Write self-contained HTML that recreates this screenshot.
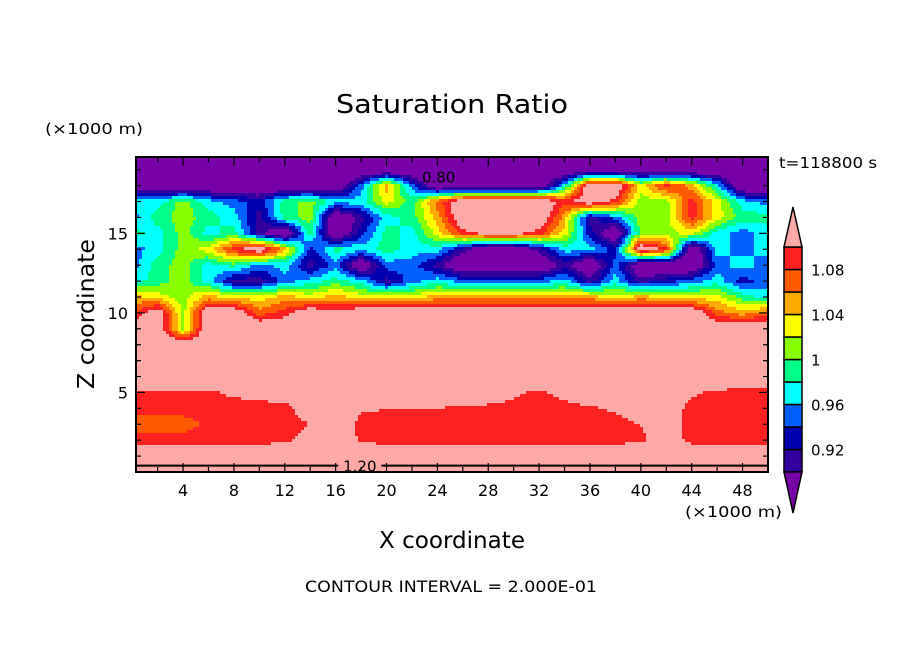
<!DOCTYPE html>
<html><head><meta charset="utf-8"><style>
html,body{margin:0;padding:0;background:#fff;}
svg{display:block;font-family:"DejaVu Sans","Liberation Sans",sans-serif;}
</style></head><body>
<svg id="chart" width="904" height="654" viewBox="0 0 904 654" xmlns="http://www.w3.org/2000/svg">
<rect width="904" height="654" fill="#fff"/>
<text x="452" y="113" text-anchor="middle" font-size="26" textLength="232" lengthAdjust="spacingAndGlyphs">Saturation Ratio</text>
<text x="45" y="134" font-size="15" textLength="98" lengthAdjust="spacingAndGlyphs">(×1000 m)</text>
<text x="779" y="168" font-size="15" textLength="98" lengthAdjust="spacingAndGlyphs">t=118800 s</text>
<g id="field"></g>
<g id="contours"></g>
<g id="axes"></g>
<g id="cbar"></g>
<text x="86" y="314" text-anchor="middle" font-size="23" textLength="150" lengthAdjust="spacingAndGlyphs" transform="rotate(-90 86 314)" dy="8">Z coordinate</text>
<text x="452" y="548" text-anchor="middle" font-size="23" textLength="146" lengthAdjust="spacingAndGlyphs">X coordinate</text>
<text x="685" y="517" font-size="15" textLength="97" lengthAdjust="spacingAndGlyphs">(×1000 m)</text>
<text x="451" y="592" text-anchor="middle" font-size="16" textLength="292" lengthAdjust="spacingAndGlyphs">CONTOUR INTERVAL = 2.000E-01</text>
</svg>
<script>
// ---- data ----
const xCoords = [0,2,4,6,8,10,12,14,16,18,20,22,24,26,28,30,32,34,36,38,40,42,44,46,48,50];
const zCoords = [0,1,2,3,4,5,6,7,8,9,10,11,12,13,14,15,16,17,18,19,20];
const row00 = [1.2,1.2,1.2,1.2,1.2,1.2,1.2,1.2,1.2,1.2,1.2,1.2,1.2,1.2,1.2,1.2,1.2,1.2,1.2,1.2,1.2,1.2,1.2,1.2,1.2,1.2];
const row01 = [1.13,1.13,1.13,1.13,1.13,1.13,1.13,1.13,1.13,1.13,1.13,1.13,1.13,1.13,1.13,1.13,1.13,1.13,1.13,1.13,1.13,1.13,1.13,1.13,1.13,1.13];
const row02 = [1.09,1.09,1.09,1.09,1.09,1.09,1.095,1.11,1.13,1.095,1.09,1.09,1.09,1.09,1.09,1.09,1.09,1.09,1.09,1.09,1.095,1.12,1.09,1.09,1.09,1.09];
const row03 = [1.07,1.07,1.07,1.085,1.09,1.09,1.09,1.1,1.13,1.09,1.09,1.09,1.09,1.09,1.09,1.09,1.09,1.09,1.09,1.09,1.1,1.115,1.09,1.09,1.09,1.09];
const row04 = [1.09,1.09,1.09,1.09,1.09,1.09,1.09,1.12,1.13,1.105,1.1,1.1,1.1,1.095,1.09,1.09,1.09,1.09,1.095,1.105,1.12,1.12,1.09,1.09,1.09,1.09];
const row05 = [1.095,1.095,1.095,1.095,1.105,1.11,1.12,1.13,1.13,1.13,1.13,1.13,1.13,1.13,1.13,1.105,1.095,1.11,1.13,1.13,1.13,1.13,1.105,1.095,1.09,1.09];
const row06 = [1.13,1.13,1.13,1.13,1.13,1.13,1.13,1.13,1.13,1.13,1.13,1.13,1.13,1.13,1.13,1.13,1.13,1.13,1.13,1.13,1.13,1.13,1.13,1.13,1.13,1.13];
const row07 = [1.13,1.13,1.13,1.13,1.13,1.13,1.13,1.13,1.13,1.13,1.13,1.13,1.13,1.13,1.13,1.13,1.13,1.13,1.13,1.13,1.13,1.13,1.13,1.13,1.13,1.13];
const row08 = [1.13,1.13,1.13,1.13,1.13,1.13,1.13,1.13,1.13,1.13,1.13,1.13,1.13,1.13,1.13,1.13,1.13,1.13,1.13,1.13,1.13,1.13,1.13,1.13,1.13,1.13];
const row09 = [1.13,1.13,1.01,1.13,1.13,1.13,1.13,1.13,1.13,1.13,1.13,1.13,1.13,1.13,1.13,1.13,1.13,1.13,1.13,1.13,1.13,1.13,1.13,1.13,1.13,1.13];
const row10 = [1.07,1.13,1.01,1.13,1.13,1.07,1.09,1.13,1.11,1.13,1.13,1.13,1.13,1.13,1.13,1.13,1.13,1.13,1.13,1.13,1.13,1.13,1.13,1.07,1.05,1.07];
const row11 = [1.05,1.03,1.01,1.05,1.03,1.03,1.05,1.03,1.05,1.03,1.03,1.03,1.05,1.05,1.05,1.05,1.05,1.05,1.05,1.03,1.05,1.03,1.03,1.03,0.99,0.97];
const row12 = [0.97,0.99,1.01,0.97,0.91,0.91,0.95,0.97,0.99,0.97,0.91,0.95,0.97,0.95,0.95,0.95,0.95,0.97,0.91,0.97,0.91,0.93,0.95,0.97,0.93,0.95];
const row13 = [0.95,0.99,1.01,0.97,0.99,0.95,0.97,0.91,0.95,0.86,0.95,0.95,0.91,0.86,0.86,0.86,0.86,0.91,0.86,0.95,0.86,0.86,0.86,0.95,0.97,0.95];
const row14 = [0.95,0.97,1.01,1.03,1.09,1.13,1.05,0.93,0.99,0.97,0.99,0.97,0.97,0.91,0.86,0.86,0.91,0.97,0.97,0.93,1.13,1.09,0.86,0.97,0.95,0.97];
const row15 = [0.99,0.97,1.01,0.97,0.99,0.91,0.86,0.99,0.86,0.93,0.99,0.97,1.03,1.09,1.11,1.11,1.09,1.03,0.93,0.86,1.01,1.01,1.03,0.97,0.95,0.97];
const row16 = [0.95,0.99,1.01,0.99,0.97,0.91,0.99,1.01,0.86,0.91,0.97,0.99,1.05,1.13,1.13,1.13,1.13,1.05,0.91,0.95,1.01,1.01,1.09,1.03,0.99,0.99];
const row17 = [0.97,0.97,1.01,0.97,0.95,0.93,0.99,1.01,0.97,0.97,1.03,0.99,1.07,1.13,1.13,1.13,1.13,1.09,1.13,1.09,1.01,1.01,1.09,1.03,0.97,0.95];
const row18 = [0.86,0.86,0.86,0.86,0.86,0.86,0.86,0.86,0.86,0.95,1.05,0.95,0.86,0.86,0.86,0.86,0.86,0.97,1.13,1.13,1.03,1.09,1.05,0.97,0.86,0.86];
const row19 = [0.86,0.86,0.86,0.86,0.86,0.86,0.86,0.86,0.86,0.86,0.86,0.86,0.86,0.86,0.86,0.86,0.86,0.86,0.86,0.86,0.86,0.86,0.86,0.86,0.86,0.86];
const row20 = [0.86,0.86,0.86,0.86,0.86,0.86,0.86,0.86,0.86,0.86,0.86,0.86,0.86,0.86,0.86,0.86,0.86,0.86,0.86,0.86,0.86,0.86,0.86,0.86,0.86,0.86];
const fieldRows = [row00,row01,row02,row03,row04,row05,row06,row07,row08,row09,row10,row11,row12,row13,row14,row15,row16,row17,row18,row19,row20];
const levelBounds = [0.90,0.92,0.94,0.96,0.98,1.00,1.02,1.04,1.06,1.08,1.10];
const levelColors = ["#7800a8","#3300a0","#0000b0","#0060ff","#00ffff","#00ff88","#88ff00","#ffff00","#ffaa00","#ff5a00","#ff2020","#ffa8a8"];
const cbarLabels = ["1.08","1.04","1","0.96","0.92"];
const cbarLabelValues = [1.08,1.04,1.00,0.96,0.92];
const xTickLabels = [4,8,12,16,20,24,28,32,36,40,44,48];
const zTickLabels = [5,10,15];

// ---- axes ----
const NS = "http://www.w3.org/2000/svg";
const PL = 136, PR = 768, PT = 157, PB = 472;
const X0 = 0.3, X1 = 50, Z0 = 0, Z1 = 19.8;
function sx(x){ return PL + (x - X0) / (X1 - X0) * (PR - PL); }
function sz(z){ return PB - (z - Z0) / (Z1 - Z0) * (PB - PT); }
function mk(tag, attrs, parent){ const e = document.createElementNS(NS, tag); for (const k in attrs) e.setAttribute(k, attrs[k]); parent.appendChild(e); return e; }
function valueAt(x, z){
  let i = Math.min(xCoords.length - 2, Math.max(0, Math.floor(x / 2)));
  let j = Math.min(zCoords.length - 2, Math.max(0, Math.floor(z)));
  const tx = Math.min(1, Math.max(0, (x - xCoords[i]) / (xCoords[i+1] - xCoords[i])));
  const tz = Math.min(1, Math.max(0, (z - zCoords[j]) / (zCoords[j+1] - zCoords[j])));
  const a = fieldRows[j][i], b = fieldRows[j][i+1], c = fieldRows[j+1][i], d = fieldRows[j+1][i+1];
  return (a*(1-tx) + b*tx)*(1-tz) + (c*(1-tx) + d*tx)*tz;
}
function colorIdx(v){ let k = 0; while (k < levelBounds.length && v >= levelBounds[k]) k++; return k; }

// ---- heatmap ----
const field = document.getElementById("field");
const STEP = 3;
function addCell(x0, x1, py, idx){
  const r = mk("rect", {x: x0, y: py, width: x1 - x0 + 0.5, height: Math.min(STEP, PB - py) + 0.5, fill: levelColors[idx]}, field);
  
  
}
for (let py = PT; py < PB; py += STEP) {
  const z = Z0 + (PB - (py + STEP/2)) / (PB - PT) * (Z1 - Z0);
  let runStart = PL, runIdx = -1;
  for (let px = PL; px < PR; px += STEP) {
    const x = X0 + ((px + STEP/2) - PL) / (PR - PL) * (X1 - X0);
    const idx = colorIdx(valueAt(x, z));
    if (idx !== runIdx) {
      if (runIdx >= 0) addCell(runStart, px, py, runIdx);
      runStart = px; runIdx = idx;
    }
  }
  if (runIdx >= 0) addCell(runStart, PR, py, runIdx);
}

// ---- contour annotations ----
const cont = document.getElementById("contours");
const l120 = mk("line", {x1: PL, y1: sz(0.4), x2: sx(16.2), y2: sz(0.4), stroke: "#000", "stroke-width": 2}, cont);


const l120b = mk("line", {x1: sx(19.6), y1: sz(0.4), x2: PR, y2: sz(0.4), stroke: "#000", "stroke-width": 2}, cont);


const t120 = mk("text", {x: sx(17.9), y: sz(0.4) + 6, "text-anchor": "middle", "font-size": 15}, cont);
t120.textContent = "1.20";


const t080 = mk("text", {x: sx(24.1), y: sz(18.2), "text-anchor": "middle", "font-size": 15}, cont);
t080.textContent = "0.80";



// ---- axes frame & ticks ----
const axes = document.getElementById("axes");
const fr = mk("rect", {x: PL, y: PT, width: PR - PL, height: PB - PT, fill: "none", stroke: "#000", "stroke-width": 2}, axes);


for (let x = 2; x <= 50; x += 2) {
  const major = x % 4 === 0, L = major ? 9 : 5;
  const t1 = mk("line", {x1: sx(x), y1: PB, x2: sx(x), y2: PB - L, stroke: "#000", "stroke-width": 1.2}, axes);
  
  
  const t2 = mk("line", {x1: sx(x), y1: PT, x2: sx(x), y2: PT + L, stroke: "#000", "stroke-width": 1.2}, axes);
  
  
}
for (let z = 1; z <= 19; z++) {
  const major = z % 5 === 0, L = major ? 9 : 5;
  const t1 = mk("line", {x1: PL, y1: sz(z), x2: PL + L, y2: sz(z), stroke: "#000", "stroke-width": 1.2}, axes);
  
  
  const t2 = mk("line", {x1: PR, y1: sz(z), x2: PR - L, y2: sz(z), stroke: "#000", "stroke-width": 1.2}, axes);
  
  
}
xTickLabels.forEach(v => {
  const t = mk("text", {x: sx(v), y: 496, "text-anchor": "middle", "font-size": 16}, axes);
  t.textContent = String(v);
  
  
});
zTickLabels.forEach(v => {
  const t = mk("text", {x: 128, y: sz(v) + 6, "text-anchor": "end", "font-size": 16}, axes);
  t.textContent = String(v);
  
  
});

// ---- colorbar ----
const cb = document.getElementById("cbar");
const CX0 = 784, CX1 = 802, CT = 247, CB = 472;
const nBox = levelColors.length - 2;
const boxH = (CB - CT) / nBox;
function cbY(v){ return CB - (v - levelBounds[0]) / (levelBounds[levelBounds.length-1] - levelBounds[0]) * (CB - CT); }
for (let k = 1; k <= nBox; k++) {
  const r = mk("rect", {x: CX0, y: cbY(levelBounds[k]), width: CX1 - CX0, height: boxH, fill: levelColors[k], stroke: "#000", "stroke-width": 1.5}, cb);
  
  
}
const tri1 = mk("polygon", {points: `${CX0},${CT} ${CX1},${CT} ${(CX0+CX1)/2},${CT-40}`, fill: levelColors[levelColors.length-1], stroke: "#000", "stroke-width": 1.5}, cb);


const tri2 = mk("polygon", {points: `${CX0},${CB} ${CX1},${CB} ${(CX0+CX1)/2},${CB+41}`, fill: levelColors[0], stroke: "#000", "stroke-width": 1.5}, cb);


cbarLabels.forEach((s, i) => {
  const t = mk("text", {x: 811, y: cbY(cbarLabelValues[i]) + 6, "font-size": 15}, cb);
  t.textContent = s;
  
  
});
</script>
</body></html>
